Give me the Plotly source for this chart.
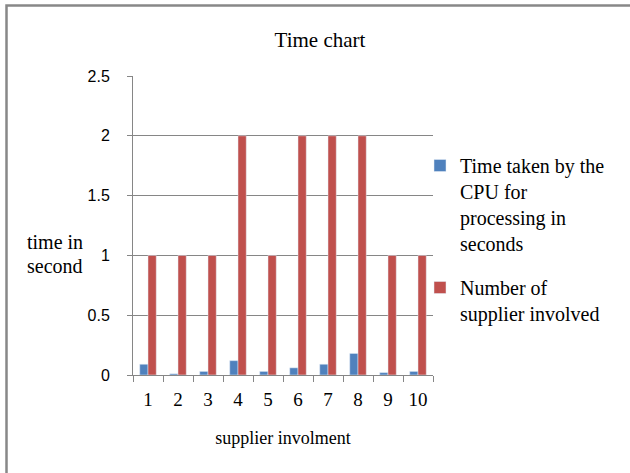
import plotly.graph_objects as go

suppliers = ["1", "2", "3", "4", "5", "6", "7", "8", "9", "10"]
cpu_time = [0.09, 0.01, 0.03, 0.12, 0.03, 0.06, 0.09, 0.18, 0.02, 0.03]
num_suppliers = [1, 1, 1, 2, 1, 2, 2, 2, 1, 1]
y_ticks = [0, 0.5, 1, 1.5, 2, 2.5]
y_tick_text = ["0", "0.5", "1", "1.5", "2", "2.5"]

W, H = 630, 473
L, R, T, B = 133, 197, 76, 98
pw, ph = W - L - R, H - T - B

def px(x):
    return (x - L) / pw

def py(y):
    return 1 - (y - T) / ph

serif = "Liberation Serif"
sans = "Liberation Sans"

fig = go.Figure()
fig.add_trace(go.Bar(x=suppliers, y=cpu_time, marker_color="#4F81BD",
                     legendgroup="a",
                     name="Time taken by the<br>CPU for<br>processing in<br>seconds"))
fig.add_trace(go.Bar(x=suppliers, y=num_suppliers, marker_color="#C0504D",
                     legendgroup="b",
                     name="Number of<br>supplier involved"))

fig.update_layout(
    width=W, height=H,
    margin=dict(l=L, r=R, t=T, b=B, autoexpand=False),
    paper_bgcolor="white", plot_bgcolor="white",
    barmode="group", bargap=0.45, bargroupgap=0,
    showlegend=True,
    legend=dict(x=px(420), y=py(146), xanchor="left", yanchor="top",
                font=dict(family=serif, size=20, color="black"),
                valign="top", traceorder="grouped", tracegroupgap=15,
                itemwidth=30, bgcolor="rgba(0,0,0,0)"),
    title=dict(text="Time chart", xref="container", x=320 / W, xanchor="center",
               yref="container", y=1 - 40 / H, yanchor="middle",
               font=dict(family=serif, size=21, color="black")),
)

fig.update_xaxes(
    type="category", showline=True, linecolor="#868686", linewidth=1,
    ticks="outside", tickson="boundaries", ticklen=6, tickcolor="#868686",
    ticklabelstandoff=7,
    tickfont=dict(family=serif, size=19, color="black"),
    showgrid=False, zeroline=False,
    title=dict(text="supplier involment", font=dict(family=serif, size=18, color="black"),
               standoff=22),
)
fig.update_yaxes(
    range=[0, 2.5], tickvals=y_ticks, ticktext=y_tick_text,
    showline=True, linecolor="#868686", linewidth=1,
    ticks="outside", ticklen=5, tickcolor="#868686",
    ticklabelstandoff=14,
    tickfont=dict(family=sans, size=16, color="black"),
    showgrid=True, gridcolor="#868686", gridwidth=1, zeroline=False,
)

for txt, yy in [("time in", 242), ("second", 266)]:
    fig.add_annotation(text=txt, xref="paper", yref="paper",
                       x=px(25), y=py(yy), xanchor="left", yanchor="middle",
                       align="left", showarrow=False,
                       font=dict(family=serif, size=20, color="black"))

# outer chart frame (left and top edges visible)
fig.add_shape(type="path", xref="paper", yref="paper",
              path=f"M {px(6.5)} {py(480)} L {px(6.5)} {py(5.5)} L {px(640)} {py(5.5)}",
              line=dict(color="#888888", width=2.5))

fig.write_html("out.html", config={"displayModeBar": False},
               post_script="document.body.style.margin='0px';")
